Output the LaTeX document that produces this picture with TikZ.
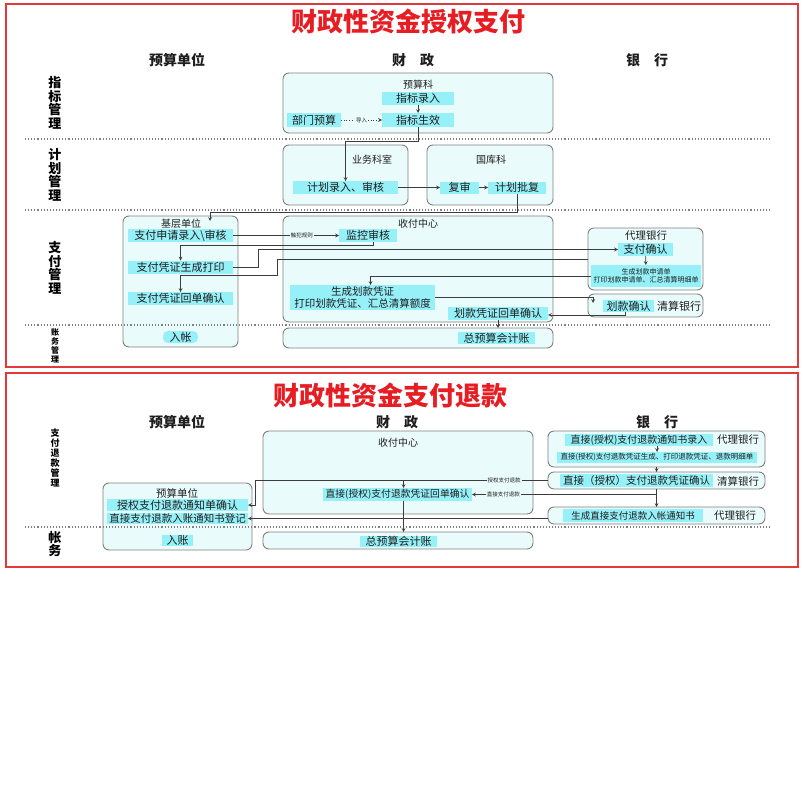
\documentclass[tikz,border=0pt]{standalone}
\usepackage{fontspec}
\setmainfont{Noto Sans CJK SC}
\usetikzlibrary{arrows}

\definecolor{titlered}{RGB}{230,30,36}
\definecolor{framered}{RGB}{226,58,58}
\definecolor{panefill}{RGB}{234,251,252}
\definecolor{paneline}{RGB}{128,128,128}
\definecolor{hlcyan}{RGB}{150,240,248}
\definecolor{inkgray}{RGB}{30,30,30}
\definecolor{linegray}{RGB}{60,60,60}

\tikzstyle{redframe} = [draw=framered, line width=1.8pt]
\tikzstyle{bigtitle} = [
    text=titlered,
    font=\bfseries\fontsize{26}{26}\selectfont
]
\tikzstyle{colhead} = [
    text=inkgray,
    font=\bfseries\fontsize{14}{14}\selectfont
]
\tikzstyle{rowlabel} = [
    text=black,
    align=center,
    inner sep=0pt,
    font=\bfseries\fontsize{13}{13.5}\selectfont
]
\tikzstyle{pane} = [
    rectangle,
    rounded corners=6pt,
    inner sep=0pt,
    outer sep=0pt,
    draw=paneline,
    fill=panefill,
    line width=0.9pt
]
\tikzstyle{panetitle} = [
    text=inkgray,
    inner sep=0pt,
    font=\fontsize{10}{10}\selectfont
]
\tikzstyle{banklabel} = [
    text=inkgray,
    inner sep=0pt,
    font=\fontsize{10.5}{10.5}\selectfont
]
\tikzstyle{hlbox} = [
    rectangle,
    fill=hlcyan,
    inner sep=0pt,
    outer sep=0pt,
    align=center,
    text=inkgray,
    font=\fontsize{11}{12}\selectfont
]
\tikzstyle{tinytag} = [
    fill=panefill,
    inner sep=1pt,
    text=inkgray,
    font=\fontsize{5.5}{5.5}\selectfont
]
\tikzstyle{sepline} = [draw=gray, dotted, line width=1.1pt]
\tikzstyle{arrow} = [->, >=stealth, draw=linegray, line width=0.7pt]

\begin{document}
\begin{tikzpicture}[x=1pt, y=-1pt, node distance=31.5pt]
\useasboundingbox (0,0) rectangle (804,800);

% 授权支付
\draw [redframe] (6,4) rectangle (798,367);

\node (title1) [bigtitle] at (408,22) {财政性资金授权支付};
\node (unit1) [colhead] at (177,60) {预算单位};
\node (fin1) [colhead] at (413,60) {财\hspace{1em}政};
\node (bank1) [colhead] at (647,60) {银\hspace{1em}行};

\node (rowZB) [rowlabel] at (55,103) {指\\标\\管\\理};
\node (rowJH) [rowlabel] at (55,175) {计\\划\\管\\理};
\node (rowZF) [rowlabel] at (55,268) {支\\付\\管\\理};
\node (rowZW) [rowlabel, font=\bfseries\fontsize{8}{9}\selectfont] at (55,346) {账\\务\\管\\理};

\node (pYSK) [pane, minimum width=270pt, minimum height=60pt] at (418,103) {};
\node (pYWKS) [pane, minimum width=125pt, minimum height=60pt] at (345.5,175) {};
\node (pGKK) [pane, minimum width=126pt, minimum height=60pt] at (490,175) {};
\node (pJCDW) [pane, minimum width=115pt, minimum height=131pt] at (180.5,281.5) {};
\node (pSFZX) [pane, minimum width=270pt, minimum height=106pt] at (418,269) {};
\node (pZYKJ) [pane, minimum width=270pt, minimum height=20pt] at (418,338) {};
\node (pDLYH) [pane, minimum width=115pt, minimum height=62pt] at (645.5,259) {};
\node (pQSYH) [pane, minimum width=115pt, minimum height=23pt] at (645.5,305.5) {};

\draw [sepline] (25,139) -- (770,139);
\draw [sepline] (25,210) -- (770,210);
\draw [sepline] (25,325) -- (770,325);

\node (tYSK) [panetitle] at (418,85) {预算科};
\node (tYWKS) [panetitle] at (372,160) {业务科室};
\node (tGKK) [panetitle] at (491,160) {国库科};
\node (tJCDW) [panetitle] at (181,224) {基层单位};
\node (tSFZX) [panetitle] at (418,224) {收付中心};
\node (tDLYH) [panetitle, font=\fontsize{10.5}{10.5}\selectfont] at (646,236) {代理银行};
\node (tQSYH) [banklabel, font=\fontsize{11}{11}\selectfont] at (679,306) {清算银行};

\node (zbLR) [hlbox, minimum width=72pt, minimum height=13pt] at (418,98.5) {指标录入};
\node (zbSX) [hlbox, minimum width=72pt, minimum height=14pt] at (418,120) {指标生效};
\node (bmYS) [hlbox, minimum width=54pt, minimum height=14pt] at (314,120) {部门预算};
\node (jhLR) [hlbox, minimum width=105pt, minimum height=13pt] at (345.5,187.5) {计划录入、审核};
\node (fsFS) [hlbox, minimum width=39pt, minimum height=12pt] at (459.5,187.5) {复审};
\node (jhPF) [hlbox, minimum width=58pt, minimum height=12pt] at (517,187.5) {计划批复};

\node (zfSQ) [hlbox, minimum width=105pt, minimum height=13pt] at (180.5,235.5) {支付申请录入\textbackslash 审核};
\node (zfSC) [hlbox, minimum width=105pt, minimum height=13pt, below of=zfSQ] {支付凭证生成打印};
\node (zfHD) [hlbox, minimum width=105pt, minimum height=13pt, below of=zfSC] {支付凭证回单确认};
\node (rzA) [hlbox, rounded corners=5pt, minimum width=35pt, minimum height=12pt] at (180.5,337) {入帐};

\node (jkSH) [hlbox, minimum width=58pt, minimum height=13pt] at (368,235.5) {监控审核};
\node (scHK) [hlbox, minimum width=145pt, minimum height=25pt, font=\fontsize{10.5}{11.5}\selectfont] at (362.5,297.5) {生成划款凭证\\打印划款凭证、汇总清算额度};
\node (hkHD) [hlbox, minimum width=100pt, minimum height=13pt] at (498,313.5) {划款凭证回单确认};
\node (zyKJ) [hlbox, minimum width=77pt, minimum height=12pt] at (496.5,338) {总预算会计账};

\node (zfQR) [hlbox, minimum width=55pt, minimum height=13pt] at (645.5,249.5) {支付确认};
\node (scSQ) [hlbox, minimum width=110pt, minimum height=22pt, font=\fontsize{7}{8.5}\selectfont] at (646,276) {生成划款申请单\\打印划款申请单、汇总清算明细单};
\node (hkQR) [hlbox, minimum width=51pt, minimum height=12pt] at (628.5,306) {划款确认};

\coordinate (jcIn) at (210,221);
\coordinate (qsIn) at (593,303);

\draw [arrow] (zbLR) -- (zbSX);
\draw [arrow, dotted] (bmYS) -- node [tinytag] {导入} (zbSX);
\draw [arrow] (zbSX.south) -- ++(0,14) -| (jhLR.north);
\draw [arrow] (jhLR) -- (fsFS);
\draw [arrow] (fsFS) -- (jhPF);
\draw [arrow] (jhPF.south) -- ++(0,18.5) -| (jcIn);
\draw [arrow] (zfSQ) -- node [tinytag, pos=0.65] {触犯规则} (jkSH);
\draw [arrow] ([xshift=5pt]jkSH.south) -- ++(0,3) -| (zfSC.north);
\draw [arrow] (zfSC.east) -- ++(25,0) |- (zfQR.west);
\draw [arrow] (pDLYH.west) -| ++(-311,16) -| (zfHD.north);
\draw [arrow] (scSQ.west) -| ([xshift=8pt]scHK.north);
\draw [arrow] (zfQR) -- (scSQ);
\draw [arrow] (scHK.east) -| (qsIn);
\draw [arrow] ([xshift=-3.5pt]hkQR.south) |- ([yshift=-1.5pt]hkHD.east);
\draw [arrow] (hkHD.south) -- (hkHD.south |- pZYKJ.north);

% 支付退款
\draw [redframe] (6,373) rectangle (798,567);

\node (title2) [bigtitle] at (390,396) {财政性资金支付退款};
\node (unit2) [colhead] at (177,422) {预算单位};
\node (fin2) [colhead] at (397,422) {财\hspace{1em}政};
\node (bank2) [colhead] at (657,422) {银\hspace{1em}行};

\node (rowTK) [rowlabel, font=\bfseries\fontsize{9}{10}\selectfont] at (55,458) {支\\付\\退\\款\\管\\理};
\node (rowZW2) [rowlabel] at (55,544) {帐\\务};

\node (pSFZX2) [pane, minimum width=270pt, minimum height=83pt] at (398,472.5) {};
\node (pZYKJ2) [pane, minimum width=270pt, minimum height=17pt] at (398,540.5) {};
\node (pYSDW2) [pane, minimum width=149pt, minimum height=67pt] at (177.5,516.5) {};
\node (pDLYH2a) [pane, minimum width=217pt, minimum height=36pt] at (656.5,449) {};
\node (pQSYH2) [pane, minimum width=217pt, minimum height=17pt] at (656.5,480.5) {};
\node (pDLYH2b) [pane, minimum width=217pt, minimum height=17pt] at (656.5,515.5) {};

\draw [sepline] (25,527) -- (770,527);

\node (tSFZX2) [panetitle] at (398,443) {收付中心};
\node (tYSDW2) [panetitle, font=\fontsize{10.5}{10.5}\selectfont] at (177,493) {预算单位};
\node (tDLYH2a) [banklabel] at (738,440) {代理银行};
\node (tQSYH2) [banklabel] at (738,481) {清算银行};
\node (tDLYH2b) [banklabel] at (735,516) {代理银行};

\node (thHD) [hlbox, minimum width=149pt, minimum height=13pt, font=\fontsize{9.8}{9.8}\selectfont] at (397.5,494.5) {直接(授权)支付退款凭证回单确认};
\node (zyKJ2) [hlbox, minimum width=77pt, minimum height=11pt] at (398.5,541.5) {总预算会计账};
\node (thLR) [hlbox, minimum width=148pt, minimum height=12pt, font=\fontsize{10}{10}\selectfont] at (639,440) {直接(授权)支付退款通知书录入};
\node (thSC) [hlbox, minimum width=200pt, minimum height=11pt, font=\fontsize{7.5}{7.5}\selectfont] at (657,457.5) {直接(授权)支付退款凭证生成、打印退款凭证、退款明细单};
\node (thQR) [hlbox, minimum width=153pt, minimum height=13pt, font=\fontsize{10.5}{10.5}\selectfont] at (636.5,480.5) {直接（授权）支付退款凭证确认};
\node (thTZ) [hlbox, minimum width=140pt, minimum height=13pt, font=\fontsize{9.5}{9.5}\selectfont] at (633,515.5) {生成直接支付退款入帐通知书};
\node (sqQR) [hlbox, minimum width=141pt, minimum height=12pt] at (177.5,505) {授权支付退款通知单确认};
\node (zjDJ) [hlbox, minimum width=141pt, minimum height=11pt, font=\fontsize{10.5}{10.5}\selectfont] at (177.5,518.5) {直接支付退款入账通知书登记};
\node (rzB) [hlbox, minimum width=31pt, minimum height=11pt] at (177.5,540.5) {入账};

\coordinate (thIn) at ([xshift=6pt]thHD.north);

\draw [arrow] (thSC.north |- thLR.south) -- (thSC.north);
\draw [arrow] (pDLYH2a) -- (pQSYH2);
\draw [arrow] (pQSYH2.west) -- node [tinytag, pos=0.15] {授权支付退款} ++(-293,0) |- (sqQR.east);
\draw [arrow] (thIn |- pQSYH2.west) -- (thIn);
\draw [arrow] (pQSYH2.south) -- (pDLYH2b.north);
\draw [arrow] (pQSYH2.south |- thHD.east) -- node [tinytag, pos=0.83] {直接支付退款} (thHD.east);
\draw [arrow] (thIn |- thHD.south) -- (thIn |- pZYKJ2.north);
\draw [arrow] (pDLYH2b.west |- zjDJ.east) -- (zjDJ.east);

\end{tikzpicture}
\end{document}
